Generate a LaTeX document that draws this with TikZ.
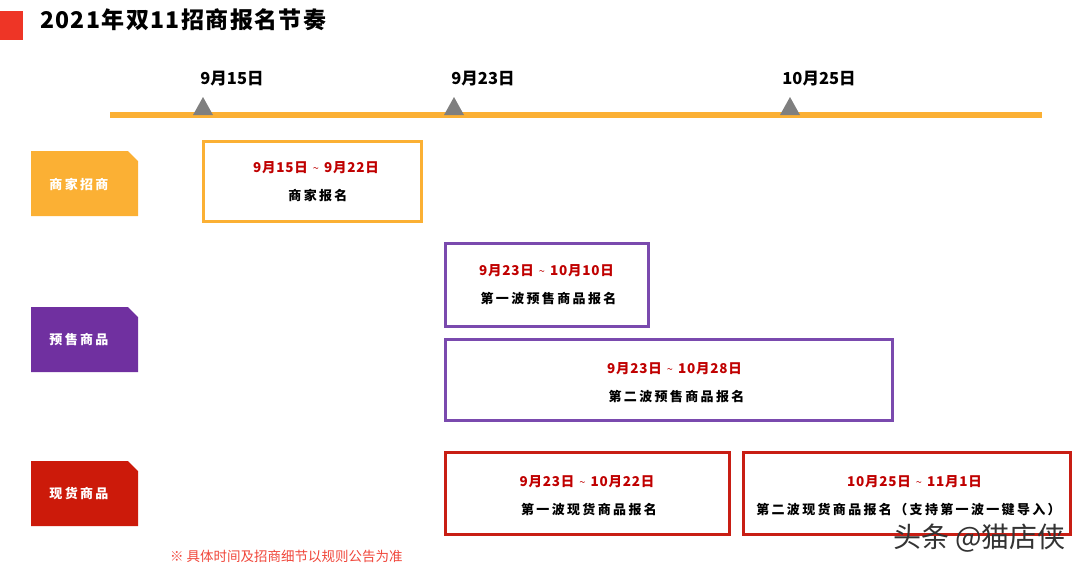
\documentclass[tikz,border=0pt]{standalone}
\usepackage{fontspec}
\newfontfamily\cjk[LetterSpace=18]{Noto Sans CJK SC}
\newfontfamily\cjkd[LetterSpace=6]{Noto Sans CJK SC}
\newfontfamily\cjkt[LetterSpace=6]{Noto Sans CJK SC}
\newfontfamily\cjkn{Noto Sans CJK SC}
\usetikzlibrary{positioning,calc}
\definecolor{barorange}{HTML}{FBB034}
\definecolor{tabpurple}{HTML}{7030A0}
\definecolor{boxpurple}{HTML}{7A4AAE}
\definecolor{tabred}{HTML}{CC1A0A}
\definecolor{boxred}{HTML}{C81E14}
\definecolor{datered}{HTML}{C00000}
\definecolor{titlered}{HTML}{EE3526}
\definecolor{notered}{HTML}{F0463A}
\definecolor{markgrey}{HTML}{7F7F7F}
\newcommand{\tl}{\hspace{5pt}{\cjkn\mdseries\fontsize{11}{11}\selectfont\char`\~}\hspace{5pt}}
\tikzset{
  periodbox/.style={draw, line width=3pt, fill=white, inner sep=0pt},
  datetxt/.style={font=\cjkd\bfseries\fontsize{13.5}{13.5}\selectfont, text=datered, inner sep=0pt},
  nametxt/.style={font=\cjk\bfseries\fontsize{13}{13}\selectfont, text=black, inner sep=0pt},
  tablabel/.style={font=\cjk\bfseries\fontsize{13}{13}\selectfont, text=white, inner sep=0pt},
  ticklabel/.style={font=\cjkn\bfseries\fontsize{16.5}{16.5}\selectfont, text=black, inner sep=0pt},
  marker/.style={fill=markgrey, draw=none},
}
\begin{document}
\begin{tikzpicture}[x=1pt,y=-1pt]
\useasboundingbox (0,0) rectangle (1080,570);
% title
\fill[titlered] (0,11) rectangle (23,40);
\node[font=\cjkt\bfseries\fontsize{23}{23}\selectfont, anchor=west, inner sep=0pt] (title) at (40,20) {2021年双11招商报名节奏};
% timeline
\coordinate (tlA) at (110,114.5);
\coordinate (tlB) at (1042,114.5);
\draw[barorange, line width=6pt] (tlA) -- (tlB);
\foreach \n/\x/\t in {m1/203/9月15日, m2/454/9月23日, m3/790/10月25日}{
  \coordinate (\n) at (\x,115);
  \fill[marker] ($(\n)+(-10,0)$) -- ($(\n)+(0,-18)$) -- ($(\n)+(10,0)$) -- cycle;
  \node[ticklabel] (\n lab) at ($(\n)+(29,-36)$) {\t};
}
% tabs
\foreach \n/\y/\c/\t in {tab1/151/barorange/商家招商, tab2/307/tabpurple/预售商品, tab3/461/tabred/现货商品}{
  \fill[\c] (31,\y) -- (128,\y) -- (138,\y+10) -- (138,\y+65) -- (31,\y+65) -- cycle;
  \node[tablabel] (\n) at (79,\y+33) {\t};
}
% boxes
\node[periodbox, draw=barorange, minimum width=218pt, minimum height=80pt] (b1) at (312,181) {};
\node[datetxt] (b1d) at ($(b1.center)+(4,-13)$) {9月15日\tl 9月22日};
\node[nametxt] (b1n) at ($(b1.center)+(6,15)$) {商家报名};

\node[periodbox, draw=boxpurple, minimum width=203pt, minimum height=83pt] (b2) at (546.5,284.5) {};
\node[datetxt] (b2d) at ($(b2.center)+(0,-14)$) {9月23日\tl 10月10日};
\node[nametxt] (b2n) at ($(b2.center)+(2,14)$) {第一波预售商品报名};

\node[periodbox, draw=boxpurple, minimum width=447pt, minimum height=81pt] (b3) at (668.5,379.5) {};
\node[datetxt] (b3d) at ($(b3.center)+(6,-11)$) {9月23日\tl 10月28日};
\node[nametxt] (b3n) at ($(b3.center)+(8,17)$) {第二波预售商品报名};

\node[periodbox, draw=boxred, minimum width=284pt, minimum height=82pt] (b4) at (587,493) {};
\node[datetxt] (b4d) at ($(b4.center)+(0,-11)$) {9月23日\tl 10月22日};
\node[nametxt] (b4n) at ($(b4.center)+(2,17)$) {第一波现货商品报名};

\node[periodbox, draw=boxred, minimum width=327pt, minimum height=82pt] (b5) at (906.5,493) {};
\node[datetxt] (b5d) at ($(b5.center)+(8,-11)$) {10月25日\tl 11月1日};
\node[nametxt] (b5n) at ($(b5.center)+(2,17)$) {第二波现货商品报名（支持第一波一键导入）};
% note
\node[font=\cjkn\fontsize{13.5}{13.5}\selectfont, text=notered, anchor=west, inner sep=0pt] (note) at (170,556) {※ 具体时间及招商细节以规则公告为准};
% watermark
\node[font=\cjkn\fontsize{28}{28}\selectfont, text=black!80, anchor=west, inner sep=0pt] (wm) at (893,538) {头条 @猫店侠};
\end{tikzpicture}
\end{document}
